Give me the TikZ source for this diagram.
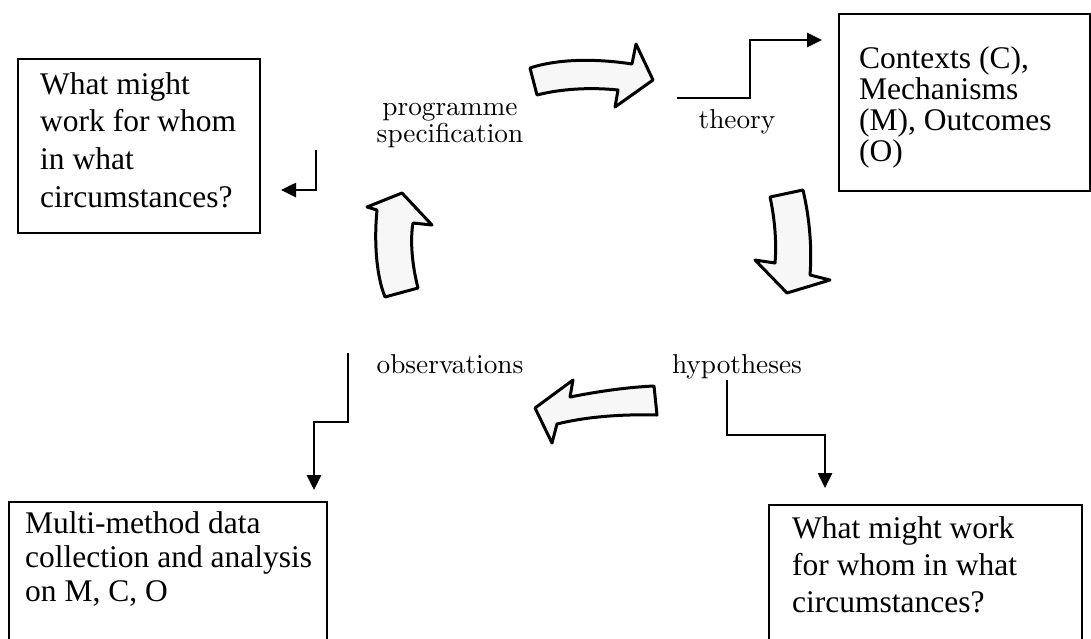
\documentclass[tikz,border=0pt]{standalone}
\usepackage{fontspec}
\newfontfamily\tnr{Liberation Serif}
\newfontfamily\lblfont{lmroman10-regular.otf}
\usetikzlibrary{arrows.meta}
\begin{document}
\begin{tikzpicture}[x=1pt,y=-1pt,
  box/.style={draw, line width=1.8pt, inner sep=0pt, anchor=north west},
  btext/.style={align=left, anchor=north west, inner sep=0pt},
  lbl/.style={font=\lblfont\fontsize{27.3}{27}\selectfont, align=center, inner sep=0pt},
  conn/.style={line width=2.6pt, line join=miter, -{Triangle[length=15pt,width=14pt]}},
  blk/.style={draw, line width=3pt, line join=round, fill=gray!6}]
\useasboundingbox (0,0) rectangle (1091,638);
\clip (0,0) rectangle (1091,638);

% boxes
\node[box, minimum width=242pt, minimum height=174pt] (bA) at (17,58) {};
\node[btext, font=\tnr\fontsize{31.5}{37.7}\selectfont] (tA) at (40,72)
  {What might\\work for whom\\in what\\circumstances?};
\node[box, minimum width=251pt, minimum height=177pt] (bB) at (838,13) {};
\node[btext, font=\tnr\fontsize{31.5}{31}\selectfont] (tB) at (859,46)
  {Contexts (C),\\Mechanisms\\(M), Outcomes\\(O)};
\node[box, minimum width=318pt, minimum height=170pt] (bC) at (8,501) {};
\node[btext, font=\tnr\fontsize{31.5}{34}\selectfont] (tC) at (25,511)
  {Multi-method data\\collection and analysis\\on M, C, O};
\node[box, minimum width=313pt, minimum height=170pt] (bD) at (768,504) {};
\node[btext, font=\tnr\fontsize{31.5}{37}\selectfont] (tD) at (792,516)
  {What might work\\for whom in what\\circumstances?};

% labels
\node[lbl, anchor=north] (prog) at (450,103) {programme\\specification};
\node[lbl, anchor=base] (theory) at (737,128) {theory};
\node[lbl, anchor=base] (obs) at (450,373) {observations};
\node[lbl, anchor=base] (hyp) at (737,373) {hypotheses};

% connector ends
\coordinate (c1s) at (677,98);  \coordinate (c1e) at (822,40);
\coordinate (c2s) at (316,150); \coordinate (c2e) at (281,190);
\coordinate (c3s) at (348,353); \coordinate (c3e) at (314,490);
\coordinate (c4s) at (727,380); \coordinate (c4e) at (825,488);

\draw[conn] (c1s) -- ++(73,0) |- (c1e);
\draw[conn] (c2s) |- (c2e);
\draw[conn] (c3s) -- ++(0,69) -| (c3e);
\draw[conn] (c4s) -- ++(0,55) -| (c4e);

% block arrows
\draw[blk] (530,68) .. controls (560,58) and (600,59) .. (632,64) -- (636,44) -- (653,80)
  -- (615,107) -- (618,90) .. controls (590,87) and (560,89) .. (537,95) -- cycle;
\draw[blk] (770,197) -- (803,190) .. controls (810,220) and (812,250) .. (810,275)
  -- (830,280) -- (787,293) -- (755,260) -- (775,263) .. controls (777,240) and (774,215) .. (770,197) -- cycle;
\draw[blk] (657,415) .. controls (620,414) and (585,417) .. (557,424) -- (552,443)
  -- (535,408) -- (573,380) -- (570,397) .. controls (600,391) and (630,387) .. (654,386) -- cycle;
\draw[blk] (385,297) -- (418,288) .. controls (412,265) and (410,240) .. (413,223)
  -- (432,225) -- (402,193) -- (367,207) -- (377,210) .. controls (374,240) and (376,275) .. (385,297) -- cycle;
\end{tikzpicture}
\end{document}
